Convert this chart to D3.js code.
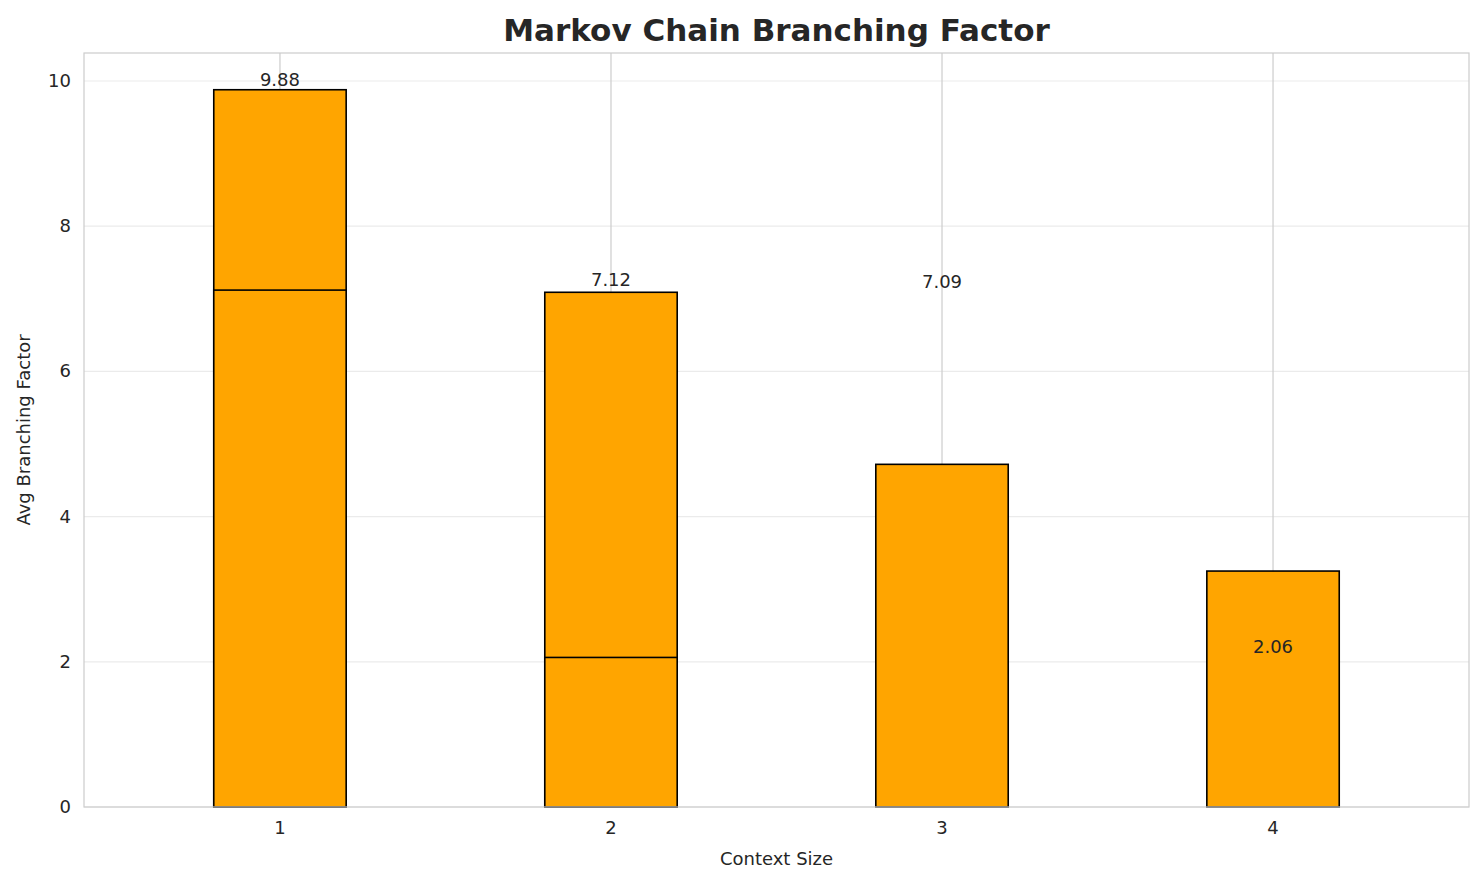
<!DOCTYPE html>
<html><head><meta charset="utf-8">
<script src="https://cdn.jsdelivr.net/npm/d3@7"></script>
<style>body{margin:0;background:#fff}text{font-family:"DejaVu Sans",sans-serif;fill:#262626}</style>
</head><body>
<svg id="c" width="1484" height="885"></svg>
<script>
// bars as drawn (overlapping positions)
const barX = [1, 1, 2, 2, 3, 4];
const barValues = [9.88, 7.12, 7.09, 2.06, 4.72, 3.25];
// value labels
const labelX = [1, 2, 3, 4];
const labelValues = [9.88, 7.12, 7.09, 2.06];
const xTicks = [1, 2, 3, 4];
const yTicks = [0, 2, 4, 6, 8, 10];

const svg = d3.select('#c');
const L = 84, R = 1469, T = 53, B = 807;
const x = d3.scaleLinear().domain([0.408, 4.592]).range([L, R]);
const y = d3.scaleLinear().domain([0, 10.386]).range([B, T]);
const bw = x(1.4) - x(1);

// grid
svg.selectAll('.hg').data(yTicks).enter().append('line')
    .attr('x1', L).attr('x2', R).attr('y1', d => y(d)).attr('y2', d => y(d))
    .attr('stroke', '#ebebeb').attr('stroke-width', 1.2);
svg.selectAll('.vg').data(xTicks).enter().append('line')
    .attr('x1', d => x(d)).attr('x2', d => x(d)).attr('y1', T).attr('y2', B)
    .attr('stroke', '#cccccc').attr('stroke-width', 1.2);

// bars
svg.selectAll('.bar').data(barValues).enter().append('rect')
    .attr('x', (d, i) => x(barX[i]) - bw / 2).attr('width', bw)
    .attr('y', d => y(d)).attr('height', d => B - y(d))
    .attr('fill', '#ffa500').attr('stroke', '#000').attr('stroke-width', 1.6);

// labels
svg.selectAll('.lbl').data(labelValues).enter().append('text')
    .attr('x', (d, i) => x(labelX[i])).attr('y', d => y(d) - 4)
    .attr('text-anchor', 'middle').attr('font-size', 18)
    .text(d => d.toFixed(2));

// frame
svg.append('rect').attr('x', L).attr('y', T).attr('width', R - L).attr('height', B - T)
    .attr('fill', 'none').attr('stroke', '#cccccc').attr('stroke-width', 1.2);

// ticks
svg.selectAll('.xt').data(xTicks).enter().append('text')
    .attr('x', d => x(d)).attr('y', B + 27).attr('text-anchor', 'middle')
    .attr('font-size', 18).text(d => d);
svg.selectAll('.yt').data(yTicks).enter().append('text')
    .attr('x', L - 13).attr('y', d => y(d) + 6).attr('text-anchor', 'end')
    .attr('font-size', 18).text(d => d);

svg.append('text').attr('x', (L + R) / 2).attr('y', 865).attr('text-anchor', 'middle')
    .attr('font-size', 18).text('Context Size');
svg.append('text').attr('transform', `translate(30,${(T + B) / 2}) rotate(-90)`)
    .attr('text-anchor', 'middle').attr('font-size', 18).text('Avg Branching Factor');
svg.append('text').attr('x', (L + R) / 2).attr('y', 41).attr('text-anchor', 'middle')
    .attr('font-size', 31).attr('font-weight', 'bold').text('Markov Chain Branching Factor');
</script>
</body></html>
